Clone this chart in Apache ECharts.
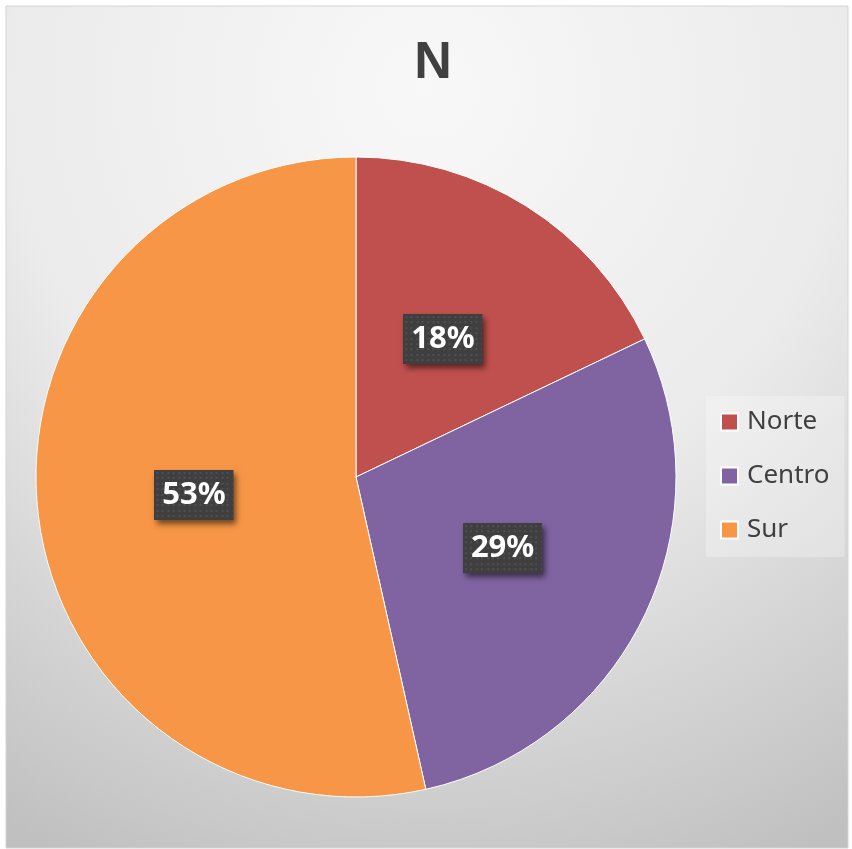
<!DOCTYPE html>
<html>
<head>
<meta charset="utf-8">
<script src="https://cdn.jsdelivr.net/npm/echarts@6/dist/echarts.min.js"></script>
<style>
  html, body { margin: 0; padding: 0; background: #ffffff; }
  #chart { width: 852px; height: 849px; }
</style>
</head>
<body>
<div id="chart"></div>
<script>
var titleText = 'N';
var categories = ['Norte', 'Centro', 'Sur'];
var values = [17.9, 28.6, 53.5];
var colors = ['#c0504d', '#8064a2', '#f79646'];

// fondo oscuro con puntos para las etiquetas
function makeDotTile(w, h) {
    var c = document.createElement('canvas');
    c.width = w;
    c.height = h;
    var ctx = c.getContext('2d');
    ctx.fillStyle = '#3f3f3f';
    ctx.fillRect(0, 0, w, h);
    ctx.fillStyle = '#505050';
    for (var y = 2; y < h; y += 5.4) {
        for (var x = 2; x < w; x += 5.4) {
            ctx.fillRect(Math.round(x), Math.round(y), 2, 2);
        }
    }
    return c;
}

var dotTile = makeDotTile(79, 50);

var pieData = [];
categories.forEach(function (name, i) {
    pieData.push({ name: name, value: values[i], itemStyle: { color: colors[i] } });
});

var myChart = echarts.init(document.getElementById('chart'));
var option = {
    animation: false,
    graphic: [{
        type: 'rect',
        z: -10,
        silent: true,
        shape: { x: 6, y: 6, width: 842, height: 842 },
        style: {
            fill: new echarts.graphic.RadialGradient(0.5, 0.1, 1, [
                { offset: 0, color: '#f8f8f8' },
                { offset: 0.5, color: '#ebebeb' },
                { offset: 0.9, color: '#c9c9c9' },
                { offset: 1, color: '#c0c0c0' }
            ]),
            stroke: '#d4d4d4',
            lineWidth: 1
        }
    }],
    title: {
        text: titleText,
        left: 433,
        top: 38,
        textAlign: 'center',
        padding: 0,
        textStyle: {
            fontFamily: 'Liberation Sans',
            fontWeight: 'bold',
            fontSize: 52,
            lineHeight: 52,
            color: '#404040'
        }
    },
    legend: {
        orient: 'vertical',
        left: 706,
        top: 396,
        padding: [11, 15, 12, 14],
        backgroundColor: 'rgba(255,255,255,0.28)',
        itemWidth: 17,
        itemHeight: 17,
        itemGap: 24,
        icon: 'rect',
        data: categories,
        textStyle: {
            fontFamily: 'Noto Sans',
            fontSize: 26,
            lineHeight: 30,
            color: '#404040',
            padding: [0, 0, 0, 4]
        }
    },
    series: [{
        type: 'pie',
        center: [356, 477],
        radius: 320,
        startAngle: 90,
        clockwise: true,
        percentPrecision: 0,
        data: pieData,
        itemStyle: {
            borderColor: '#ffffff',
            borderWidth: 1
        },
        label: {
            position: 'inside',
            formatter: '{p|{d}%}',
            padding: 0,
            backgroundColor: '#3f3f3f',
            shadowColor: 'rgba(0,0,0,0.55)',
            shadowBlur: 6,
            shadowOffsetX: 3,
            shadowOffsetY: 4,
            rich: {
                p: {
                    width: 79,
                    height: 50,
                    lineHeight: 50,
                    align: 'center',
                    fontFamily: 'Noto Sans',
                    fontWeight: 'bold',
                    fontSize: 31,
                    color: '#ffffff',
                    backgroundColor: { image: dotTile }
                }
            }
        },
        labelLine: { show: false },
        emphasis: { disabled: true }
    }]
};
myChart.setOption(option);
</script>
</body>
</html>
